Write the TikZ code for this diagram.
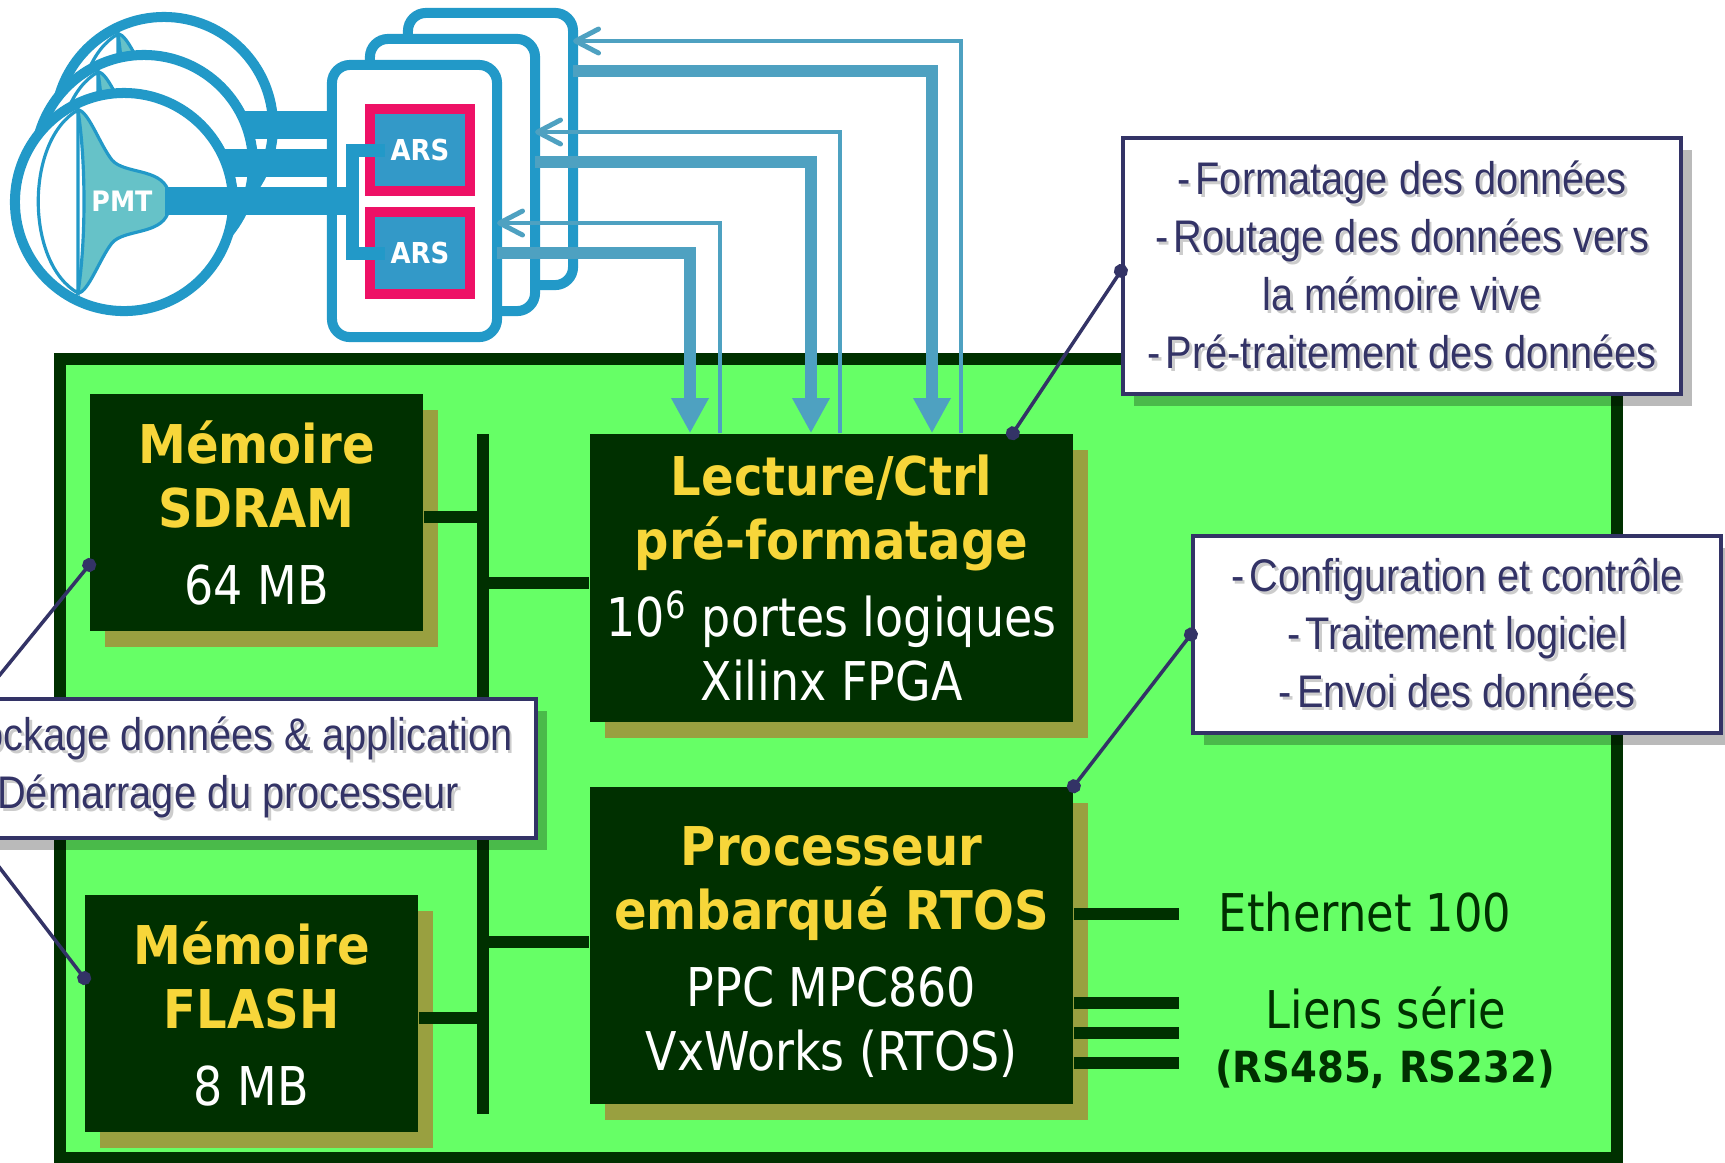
\documentclass[tikz,border=0pt]{standalone}
\usepackage{fontspec}
\usepackage{tikz}
\usetikzlibrary{arrows.meta,positioning,shadows,calc}
\usepackage{xcolor}
\newfontfamily\blockfont[FakeStretch=0.86]{DejaVu Sans}
\newfontfamily\titlefont[FakeStretch=0.9]{DejaVu Sans}
\newfontfamily\notefont[FakeStretch=0.87]{Liberation Sans}
\definecolor{tubeblue}{RGB}{34,153,200}
\definecolor{linkblue}{RGB}{78,161,193}
\definecolor{tubeteal}{RGB}{102,194,200}
\definecolor{arsmagenta}{RGB}{238,17,102}
\definecolor{arsblue}{RGB}{51,153,200}
\definecolor{boardgreen}{RGB}{102,255,102}
\definecolor{darkgreen}{RGB}{0,48,0}
\definecolor{blockshadow}{RGB}{153,160,64}
\definecolor{titleyellow}{RGB}{247,214,58}
\definecolor{notenavy}{RGB}{51,51,102}
\newcommand{\ttl}[1]{{\color{titleyellow}\titlefont\bfseries #1}}
\newcommand{\dash}{-\kern1.5pt}
% grey copy under the callout text
\newcommand{\shd}[1]{\makebox[0pt][l]{\kern0.8pt\raisebox{-0.8pt}{\color{black!20}#1}}#1}

\begin{document}
\begin{tikzpicture}[x=0.01cm, y=-0.01cm,
    card/.style={draw=tubeblue, line width=2.85pt, fill=white, rounded corners=0.18cm,
      minimum width=1.65cm, minimum height=2.72cm, inner sep=0pt, outer sep=0pt},
    ars/.style={draw=arsmagenta, line width=2.85pt, fill=arsblue, minimum width=1.0cm,
      minimum height=0.82cm, inner sep=0pt, text=white,
      font=\titlefont\bfseries\fontsize{8.2}{9}\selectfont},
    block/.style={fill=darkgreen, inner sep=0pt, align=center, text=white,
      font=\blockfont\fontsize{15.2}{18.2}\selectfont,
      drop shadow={shadow xshift=0.15cm, shadow yshift=-0.16cm, fill=blockshadow, opacity=1}},
    bus/.style={darkgreen, line width=3.3pt},
    datalink/.style={linkblue, line width=3.3pt, -{Triangle[length=0.35cm,width=0.35cm]}},
    ctrllink/.style={linkblue, line width=1.4pt, -{Straight Barb[length=0.23cm,width=0.24cm,round]}},
    note/.style={draw=notenavy, line width=1.1pt, fill=white, inner sep=0pt, align=center,
      text=notenavy, font=\notefont\fontsize{13}{16.5}\selectfont,
      drop shadow={shadow xshift=0.11cm, shadow yshift=-0.12cm, fill=black, opacity=0.27}},
    pointer/.style={notenavy, line width=1pt, {Circle[length=0.14cm]}-{Circle[length=0.14cm]},
      shorten <=-0.07cm, shorten >=-0.07cm},
    port/.style={text=darkgreen, font=\blockfont\fontsize{14.8}{17}\selectfont}]

  \useasboundingbox (0,0) rectangle (1725,1162);
  \fill[white] (0,0) rectangle (1725,1162);

  % tubes and readout cards, back to front
  \foreach \k in {2,1,0} {
    \begin{scope}[shift={(20*\k,-38*\k)}]
      \draw[tubeblue, line width=2.85pt, fill=white] (124,202) circle[radius=1.09cm];
      \draw[tubeblue, line width=0.9pt, fill=white]
        (78,110) .. controls (25,140) and (25,263) .. (78,293) -- cycle;
      \draw[tubeblue, line width=0.9pt, fill=tubeteal]
        (78,110) .. controls (88,110) and (100,145) .. (112,160)
        .. controls (124,174) and (160,168) .. (168,190) -- (168,213)
        .. controls (160,235) and (124,229) .. (112,243)
        .. controls (100,258) and (88,293) .. (78,293)
        .. controls (86,240) and (86,163) .. cycle;
      \draw[tubeblue, line width=7.7pt] (165,201) -- (330+18*\k,201);
    \end{scope}
    \node[card] (card\k) at (414.5+38*\k, 201-26*\k) {};
  }
  \node[text=white, font=\titlefont\bfseries\fontsize{8}{9}\selectfont] (pmt) at (122,201) {PMT};

  % front card
  \node[ars] (arsA) at (420,150) {ARS};
  \node[ars] (arsB) at (420,253) {ARS};
  \draw[tubeblue, line width=7.7pt] (card0.west) -- (352,201);
  \draw[tubeblue, line width=3.7pt] ([xshift=0.2cm]arsA.west) -- (352,150) -- (352,253)
    -- ([xshift=0.2cm]arsB.west);

  % board
  \draw[darkgreen, line width=3.4pt, fill=boardgreen] (60,359) rectangle (1617,1158);

  \node[block, minimum width=3.33cm, minimum height=2.37cm] (sdram) at (256.5,512.5)
    {\ttl{Mémoire}\\\ttl{SDRAM}\\[3.7pt]64 MB};
  \node[block, minimum width=3.33cm, minimum height=2.37cm] (flash) at (251.5,1013.5)
    {\ttl{Mémoire}\\\ttl{FLASH}\\[3.7pt]8 MB};
  \node[block, minimum width=4.83cm, minimum height=2.88cm] (lect) at (831.5,578)
    {\ttl{Lecture/Ctrl}\\\ttl{pré-formatage}\\[3.7pt]10\textsuperscript{6} portes logiques\\Xilinx FPGA};
  \node[block, minimum width=4.83cm, minimum height=3.17cm] (proc) at (831.5,945.5)
    {\rule{0pt}{15pt}\ttl{Processeur}\\\ttl{embarqué RTOS}\\[3.7pt]PPC MPC860\\VxWorks (RTOS)};

  % local bus
  \coordinate (bustop) at (483,434);
  \coordinate (busbot) at (483,1114);
  \draw[bus] (bustop) -- (busbot);
  \draw[bus] (sdram.east |- 0,517) -- (bustop |- 0,517);
  \draw[bus] (bustop |- 0,583) -- (lect.west |- 0,583);
  \draw[bus] (bustop |- 0,942) -- (proc.west |- 0,942);
  \draw[bus] (flash.east |- 0,1018) -- (bustop |- 0,1018);

  % outside links
  \node[port, anchor=base] (eth) at (1365,931) {Ethernet 100};
  \node[port, anchor=base] (serial) at (1386,1028) {Liens série};
  \node[port, anchor=base, font=\titlefont\bfseries\fontsize{12.2}{14}\selectfont] (rs)
    at (1385,1082) {(RS485, RS232)};
  \draw[bus] (proc.east |- 0,914) -- ++(105,0);
  \foreach \y in {1003,1033,1063}
    \draw[bus] (proc.east |- 0,\y) -- ++(105,0);

  % data up, control down
  \foreach \k/\xa/\xb/\ya/\yb in {0/690/720/253/223, 1/811/840/162/132, 2/932/961/71/41} {
    \draw[datalink] (card\k.east |- 0,\ya) -| (\xa,0 |- lect.north);
    \draw[ctrllink] (\xb,0 |- lect.north) |- (card\k.east |- 0,\yb);
  }

  % callouts
  \node[note, minimum width=5.58cm, minimum height=2.56cm] (fpganote) at (1402,266)
    {\shd{\dash Formatage des données}\\\shd{\dash Routage des données vers}\\
     \shd{la mémoire vive}\\\shd{\dash Pré-traitement des données}};
  \node[note, minimum width=5.28cm, minimum height=1.97cm] (procnote) at (1457,634.5)
    {\shd{\dash Configuration et contrôle}\\\shd{\dash Traitement logiciel}\\
     \shd{\dash Envoi des données}};
  \node[note, minimum width=6.10cm, minimum height=1.39cm] (memnote) at (231,768.5)
    {\shd{\dash Stockage données \& application}\hspace*{0.24cm}\\
     \shd{\dash Démarrage du processeur}\hspace*{0.24cm}};

  \draw[pointer] ([yshift=-0.05cm]fpganote.west) -- ([xshift=-0.61cm]lect.north east);
  \draw[pointer] (procnote.west) -- (proc.north east);
  \draw[pointer] (memnote.west) -- (sdram.west |- 0,565);
  \draw[pointer] (memnote.west) -- (flash.west |- 0,978);
\end{tikzpicture}
\end{document}
